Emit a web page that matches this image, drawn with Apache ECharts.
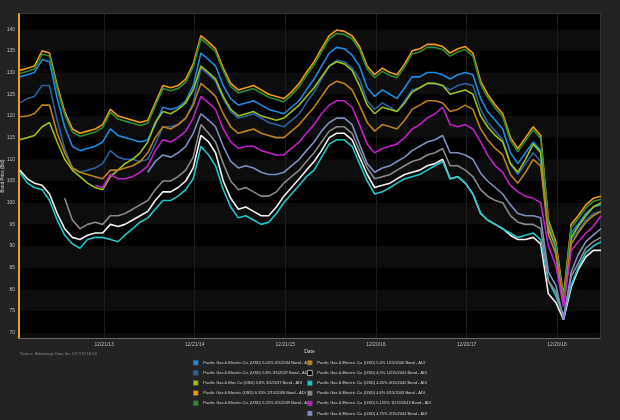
<!DOCTYPE html>
<html><head><meta charset="utf-8">
<script src="https://cdn.jsdelivr.net/npm/echarts@6/dist/echarts.min.js"></script>
<style>html,body{margin:0;padding:0;background:#232323;}#c{width:620px;height:420px;}</style>
</head><body><div id="c"></div>
<script>
// Monthly sample dates (mid-month), Jan 2013 .. Jun 2019
const startYear = 2013, monthCount = 78;
const months = [];
for (let i = 0; i < monthCount; i++) {
  const y = startYear + Math.floor(i / 12), m = i % 12 + 1;
  months.push(y + '-' + String(m).padStart(2, '0') + '-15');
}
const tickDates = ['2013-12-21', '2014-12-21', '2015-12-21', '2016-12-20', '2017-12-20', '2018-12-20'];
const axisStart = '2013-01-12', axisEnd = '2019-06-11';

const seriesNames = [
  'Pacific Gas & Electric Co. (USD) 6.05% 3/1/2034 Bond - ADI',
  'Pacific Gas & Electric Co. (USD) 5.8% 3/1/2037 Bond - ADI',
  'Pacific Gas & Elec Co (USD) 5.8% 3/1/2037 Bond - ADI',
  'Pacific Gas & Electric (USD) 6.35% 2/15/2038 Bond - ADI',
  'Pacific Gas & Electric Co. (USD) 6.25% 3/1/2039 Bond - ADI',
  'Pacific Gas & Electric Co. (USD) 5.4% 1/15/2040 Bond - ADI',
  'Pacific Gas & Electric Co. (USD) 4.5% 12/15/2041 Bond - ADI',
  'Pacific Gas & Electric Co. (USD) 4.45% 4/15/2042 Bond - ADI',
  'Pacific Gas & Electric Co. (USD) 4.6% 6/15/2043 Bond - ADI',
  'Pacific Gas & Electric Co. (USD) 5.125% 11/15/2043 Bond - ADI',
  'Pacific Gas & Electric Co. (USD) 4.75% 2/15/2044 Bond - ADI'
];
const seriesColors = ['#1c8ce3', '#2b62a6', '#9cc21c', '#f39c12', '#2e8b2e', '#bf8218', '#f2f2f2', '#1fc6c6', '#8a8a8a', '#c21fc9', '#7c90c4'];

const b6050_2034 = [129,129.5,130,133,132.5,124,117.5,113,112,112.5,113,114,
117,115.5,115,114.5,114,114.5,118,122,121.5,122,123.5,127,
134.5,133,131.5,127,124,122.5,123,123.5,122.5,121.5,121,120.5,
122,123.5,126,128.5,131.5,134.5,135.8,135.5,134,131.5,126.5,124.5,
126,125,124,126.5,129,129,130,130,129.5,128.5,129.5,130,
129.5,124,121,119,117,111.5,109,111.5,114,112,94.5,89.5,
77,93,95,97.5,99,99.5];
const b5800_2037 = [123,124,124.5,127,127,119,112.5,108,107,107.5,108,109,
112,110.5,110,110,109.5,110,113.5,117.5,117.5,118,119.5,123,
131,129.5,128,124,121,119.5,120,120.5,119.5,118.5,118,117.5,
119,120.5,123,125.5,128.5,131.5,132.8,132.5,131,128.5,123.5,121.5,
123,122,121,123.5,126,126.5,127.5,127.5,127,126,127,127.5,
127,121.5,118.5,116.5,114.5,109,106.5,109,111.5,109.5,93,88,
76,91.5,93.5,96,97.5,98];
const b5800_2037e = [114.5,115,115.5,117.5,118.5,114,110,107.5,106,104.5,103.5,103,
106,107.5,109,110,111.5,114,118.5,121,120.5,121.5,123,126,
131.5,130,128.5,124.5,121.5,120,120.5,121,120,119.5,119,119.5,
121,122.5,124.5,126.5,129,131.5,132.5,132,130.5,127,122.5,120.5,
122,121.5,121,123,125.5,126.5,127.5,127.5,127,125,125.5,126,
125,120,117.5,115.5,114,109,107,110,113.5,111.5,94,90,
77.5,92,94.5,97,99,100];
const b6350_2038 = [130.5,131,131.5,135,134.5,127,121,117,116,116.5,117,118,
121.5,120,119.5,119,118.5,119,123,127,126.5,127,128.5,132,
138.5,137,135.5,131,127.5,126,126.5,127,126,125,124.5,124,
125.5,127.5,130,132.5,135.5,138.5,139.8,139.5,138.5,136,131.5,129.5,
131,130,129.5,132,135,135.5,136.5,136.5,136,134.5,135.5,136,
134.5,128,125,122.5,120.5,115,112.5,115,117.5,115.5,96,91,
78.5,95,97,99.5,101,101.5];
const b6250_2039 = [129.8,130.3,130.8,134.2,133.8,126.3,120.3,116.3,115.3,115.8,116.3,117.3,
120.8,119.3,118.8,118.3,117.8,118.3,122.3,126.3,125.8,126.3,127.8,131.3,
137.8,136.3,134.8,130.3,126.8,125.3,125.8,126.3,125.3,124.3,123.8,123.3,
124.8,126.8,129.3,131.8,134.8,137.8,139,138.8,137.8,135.3,130.8,128.8,
130.3,129.3,128.8,131.3,134.3,134.8,135.8,135.8,135.3,133.8,134.8,135.3,
133.8,127.3,124.3,121.8,119.8,114.3,111.8,114.3,116.8,114.8,95.3,90.3,
77.8,94.3,96.3,98.8,100.3,100.8];
const b5400_2040 = [119.8,120,120.5,122.5,122.5,116,111.5,108,107,106.5,106,105.5,
107.5,107.5,108,108.5,109.5,111.5,115,117.5,117,118,119.5,122.5,
127.5,126,124.5,120.5,117.5,116,116.5,117,116,115.5,115,115,
116.5,118,120,122,124.5,127,128,127.5,126,122.5,118.5,116.5,
118,117.5,117,119,121.5,122.5,123.5,123.5,123,121,121.5,122.5,
121.5,117,114.5,112.5,111,106.5,104.5,107,110,108.5,92.5,88.5,
76.5,90.5,93,95.5,97,98];
const b4500_2041 = [107.5,105.5,104.5,104,102,97.5,94,92,91.5,92.5,93,93,
95,94.5,95,96,97,98,100.5,102.5,102.5,103.5,105,108,
115.5,114,111.5,105,101,98.5,99,98,97,97,99,101.5,
103.5,105.5,107.5,109.5,112,115,116,116,114.5,110.5,106.5,103.5,
104,104.5,105.5,106.5,107,107.5,108.5,109,110,105.5,106,104.5,
102,97.5,96,95,94,92.5,91.5,91.5,92,90.5,79,77,
73,80.5,84.5,87.5,89,89];
const b4450_2042 = [107,104.5,103.5,103,100.5,96,92.5,90.5,89.5,91.5,92,92,
91.5,91,92.5,94,95.5,96.5,98.5,100.5,100.5,101.5,103,105.5,
113,111,108.5,103,99,96.5,97,96,95,95.5,97.5,100,
102,104,106,107.5,110.5,113.5,114.5,114.5,113,109,105,102,
102.5,103.5,104.5,105.5,106,106.5,107.5,108.5,109.5,105.5,106,104.5,
102,97.6,96,95,94,93,92,92.5,93,91.5,82,78.5,
74,81,85,88.5,90,91];
const b4600_2043 = [null,null,null,null,null,null,101,96,94,95,95.5,95,
97,97,97.5,98.5,99.5,100.5,103,105,105,106,107.5,110.5,
118,116,114,109,105,103,103.5,102.5,101.5,101.5,102.5,104.5,
106,107.5,109.5,111.5,114,116.5,117.5,117.5,116,112,108,105.5,
106,106.5,107.5,108.5,109.5,110,111,111.5,112.5,108.5,108.5,107.5,
106,103,101.5,100.5,100,97,95.5,95,95,94,82,79.5,
73.5,83,86,89.5,91,92];
const b5125_2043 = [null,null,null,null,null,null,null,null,null,null,104,103.5,
106.5,105.5,105.5,106,107,108.5,112,114.5,114,115,116.5,119.5,
124.5,123,121.5,117,114,112.5,113,113,112,111.5,111,111,
112.5,114,116,118,120.5,122.5,123.5,123.5,122,118,113.5,111.5,
112.5,113,113.5,115,117,118,119.5,120.5,122,118,117.5,118,
117,114,111,108.5,107,104,102.5,101.5,101,100,90,85.5,
76,89,91,93,94.5,97];
const b4750_2044 = [null,null,null,null,null,null,null,null,null,null,null,null,
null,null,null,null,null,107,109.5,111,110.5,111.5,113,116,
120.5,119,117.5,113,109.5,108,108.5,108,107,106.5,106.5,107,
108.5,110,112,114,116.5,118.5,119.5,119.5,118,113.5,109,107,
108,108.5,109.5,110.5,112,113,114,114.5,115.5,111.5,111.5,111,
110,106.8,105,103.5,102,99.5,97.5,97,97,96.5,84,81,
73,84,88,91,92.5,94];

const seriesValues = [b6050_2034, b5800_2037, b5800_2037e, b6350_2038, b6250_2039, b5400_2040,
  b4500_2041, b4450_2042, b4600_2043, b5125_2043, b4750_2044];

const font = 'Liberation Sans, DejaVu Sans, sans-serif';
const DAY = 86400000;
const base = Date.UTC(2013, 0, 12);
function dayOf(s) { const p = s.split('-').map(Number); return Math.round((Date.UTC(p[0], p[1] - 1, p[2]) - base) / DAY); }
function fmt(v) {
  const d = new Date(base + v * DAY);
  return (d.getUTCMonth() + 1) + '/' + d.getUTCDate() + '/' + String(d.getUTCFullYear()).slice(2);
}
const tickDays = tickDates.map(dayOf);
const legendData = seriesNames.map((n, i) => i === 6
  ? {name: n, itemStyle: {color: '#000', borderColor: '#e0e0e0', borderWidth: 0.7}}
  : {name: n});

const chart = echarts.init(document.getElementById('c'), null, {renderer: 'canvas'});
chart.setOption({
  backgroundColor: '#232323',
  animation: false,
  textStyle: {fontFamily: font},
  grid: {left: 19, right: 20, top: 14, bottom: 82, containLabel: false, outerBoundsMode: 'none',
         show: true, backgroundColor: '#000', borderColor: '#444', borderWidth: 1},
  legend: [
    {data: legendData.slice(0, 5), orient: 'vertical', left: 193, top: 360, padding: 0, itemWidth: 5, itemHeight: 5, itemGap: 4.6,
     icon: 'rect', itemStyle: {borderColor: '#444', borderWidth: 0.5},
     textStyle: {color: '#d6d6d6', fontSize: 4, fontFamily: font}, selectedMode: false},
    {data: legendData.slice(5), orient: 'vertical', left: 307, top: 360, padding: 0, itemWidth: 5, itemHeight: 5, itemGap: 4.6,
     icon: 'rect', itemStyle: {borderColor: '#444', borderWidth: 0.5},
     textStyle: {color: '#d6d6d6', fontSize: 4, fontFamily: font}, selectedMode: false}
  ],
  graphic: [{type: 'text', left: 20, top: 352, style: {text: 'Source: Advantage Data Inc. 6/17/19 16:53', fill: '#8a8a8a', fontSize: 4, fontFamily: font}}],
  xAxis: {
    type: 'value', min: dayOf(axisStart), max: dayOf(axisEnd),
    name: 'Date', nameLocation: 'middle', nameGap: 11, nameMoveOverlap: false,
    nameTextStyle: {color: '#d6d6d6', fontSize: 5, fontFamily: font},
    axisLine: {show: true, lineStyle: {color: '#6a6a6a', width: 1}},
    axisTick: {show: false, customValues: tickDays},
    axisLabel: {customValues: tickDays, formatter: fmt, color: '#bdbdbd', fontSize: 5, margin: 4, fontFamily: font},
    splitLine: {show: true, lineStyle: {color: '#1c1c1c', width: 1}}
  },
  yAxis: {
    type: 'value', min: 68.8, max: 143.5, splitNumber: 15,
    name: 'Bond Price (Bid)', nameLocation: 'middle', nameGap: 14, nameMoveOverlap: false,
    nameTextStyle: {color: '#d6d6d6', fontSize: 4.5, fontFamily: font},
    axisLine: {show: true, lineStyle: {color: '#f39a16', width: 2}},
    axisTick: {show: false},
    axisLabel: {color: '#bdbdbd', fontSize: 5, margin: 4, showMinLabel: false, showMaxLabel: false, fontFamily: font},
    splitLine: {show: false},
    splitArea: {show: true, areaStyle: {color: ['#0d0d0d', '#000000']}}
  },
  series: seriesNames.map((n, i) => ({
    name: n, type: 'line', showSymbol: false, symbol: 'none',
    data: months.map((d, k) => [dayOf(d), seriesValues[i][k]]),
    lineStyle: {color: seriesColors[i], width: 1.6},
    itemStyle: {color: seriesColors[i]},
    connectNulls: false
  }))
});
</script></body></html>
